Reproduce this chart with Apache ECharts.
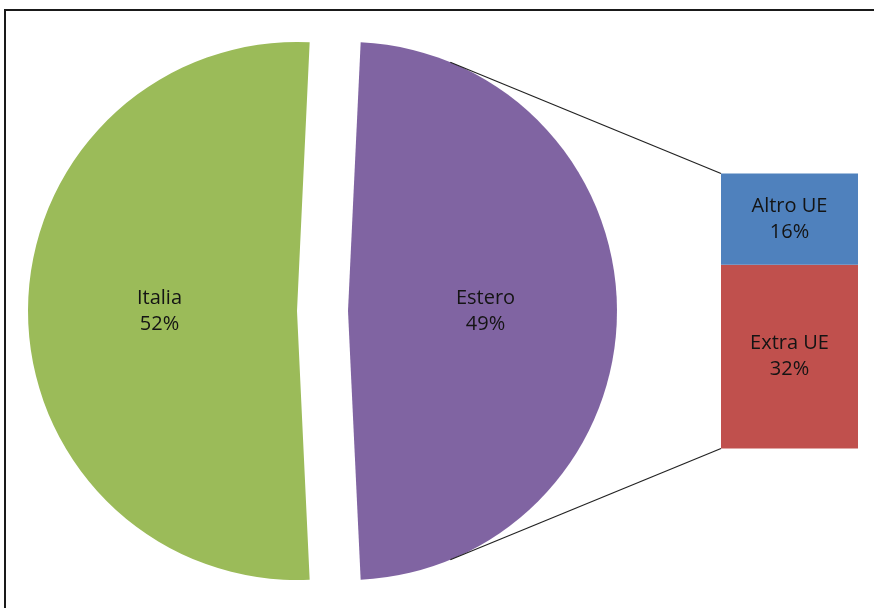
<!DOCTYPE html>
<html>
<head>
<meta charset="utf-8">
<script src="https://cdn.jsdelivr.net/npm/echarts@6/dist/echarts.min.js"></script>
<style>
html,body{margin:0;padding:0;background:#fff;}
#chart{width:874px;height:608px;}
</style>
</head>
<body>
<div id="chart"></div>
<script>
// Data
var pieNames = ['Estero', 'Italia'];
var pieValues = [48.5, 51.5];
var barNames = ['Extra UE', 'Altro UE'];   // bottom to top
var barValues = [32.4, 16.1];

var pieColors = ['#8064A2', '#9BBB59'];
var barColors = ['#C0504D', '#4F81BD'];

// Layout
var pieCX = 322.5, pieCY = 311, pieR = 269, explode = 25.5;
var barLeft = 721, barTop = 173.5, barW = 137, barH = 275;
var fontFam = '"Open Sans", "Noto Sans", sans-serif';

var barSum = barValues.reduce(function (a, b) { return a + b; }, 0);

var chart = echarts.init(document.getElementById('chart'), null, {renderer: 'canvas'});

var labelStyle = {
  color: '#141414',
  fontFamily: fontFam,
  fontSize: 20,
  lineHeight: 26
};

var option = {
  animation: false,
  backgroundColor: '#fff',
  grid: {left: barLeft, top: barTop, width: barW, height: barH},
  xAxis: {type: 'category', data: ['v'], show: false},
  yAxis: {type: 'value', min: 0, max: barSum, show: false},
  series: [
    {
      type: 'pie',
      center: [pieCX, pieCY],
      radius: pieR,
      startAngle: 90 - (180 - pieValues[0] / 100 * 360) / 2,
      clockwise: true,
      selectedMode: 'multiple',
      selectedOffset: explode,
      avoidLabelOverlap: false,
      emphasis: {disabled: true},
      select: {itemStyle: {}},
      label: Object.assign({
        show: true,
        position: 'inside',
        formatter: function (p) { return p.name + '\n' + Math.round(p.value) + '%'; }
      }, labelStyle),
      labelLine: {show: false},
      itemStyle: {borderWidth: 0},
      data: pieNames.map(function (n, i) {
        return {name: n, value: pieValues[i], selected: true, itemStyle: {color: pieColors[i]},
                select: {itemStyle: {color: pieColors[i]}}};
      })
    }
  ].concat(barNames.map(function (n, i) {
    return {
      type: 'bar',
      name: n,
      stack: 'other',
      barWidth: '100%',
      barCategoryGap: 0,
      emphasis: {disabled: true},
      itemStyle: {color: barColors[i]},
      label: Object.assign({
        show: true,
        position: 'inside',
        formatter: function (p) { return p.seriesName + '\n' + Math.round(p.value) + '%'; }
      }, labelStyle),
      data: [barValues[i]]
    };
  }))
};

chart.setOption(option);

// Connector lines: tangent from bar corners to the exploded "Estero" slice
var ex = pieCX + explode, ey = pieCY;
var yTop = chart.convertToPixel({gridIndex: 0}, [0, barSum])[1];
var yBot = chart.convertToPixel({gridIndex: 0}, [0, 0])[1];
function tangent(px, py, sign) {
  var dx = px - ex, dy = py - ey;
  var d = Math.sqrt(dx * dx + dy * dy);
  var phi = Math.atan2(dy, dx);
  var a = Math.acos(pieR / d);
  var t = phi + sign * a;
  return [ex + pieR * Math.cos(t), ey + pieR * Math.sin(t)];
}
var tTop = tangent(barLeft, yTop, -1);
var tBot = tangent(barLeft, yBot, 1);

chart.setOption({
  graphic: [
    {type: 'line', shape: {x1: tTop[0], y1: tTop[1], x2: barLeft, y2: yTop},
     style: {stroke: '#222', lineWidth: 1.2}, z: 10},
    {type: 'line', shape: {x1: tBot[0], y1: tBot[1], x2: barLeft, y2: yBot},
     style: {stroke: '#222', lineWidth: 1.2}, z: 10},
    {type: 'rect', shape: {x: 5, y: 10, width: 1000, height: 1000},
     style: {fill: 'none', stroke: '#1a1a1a', lineWidth: 2}, z: 10, silent: true}
  ]
});
</script>
</body>
</html>
